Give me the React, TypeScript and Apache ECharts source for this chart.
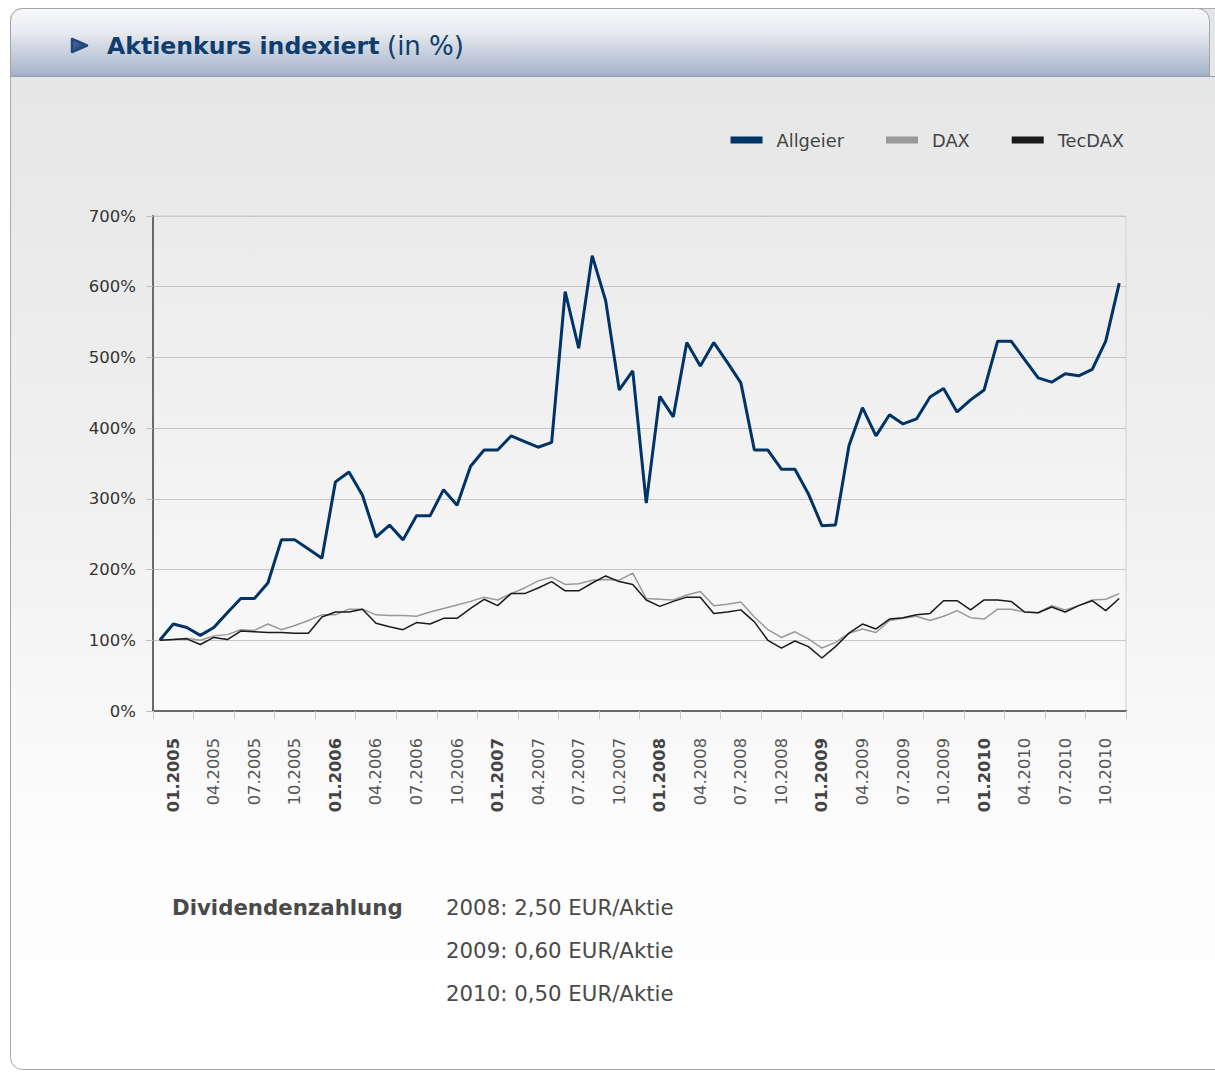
import React, { useEffect, useRef } from "react";
import * as echarts from "echarts";

const FONT = "'DejaVu Sans', Verdana, sans-serif";

const quarterLabels = [
  "01.2005", "04.2005", "07.2005", "10.2005",
  "01.2006", "04.2006", "07.2006", "10.2006",
  "01.2007", "04.2007", "07.2007", "10.2007",
  "01.2008", "04.2008", "07.2008", "10.2008",
  "01.2009", "04.2009", "07.2009", "10.2009",
  "01.2010", "04.2010", "07.2010", "10.2010",
];

const years = ["2005", "2006", "2007", "2008", "2009", "2010"];
const months = ["01", "02", "03", "04", "05", "06", "07", "08", "09", "10", "11", "12"];
const monthLabels = years.flatMap((y) => months.map((m) => `${m}.${y}`));

const allgeier = [
  100, 123, 118, 107, 118, 139, 159, 159, 181, 242, 242, 229,
  216, 324, 338, 305, 246, 263, 242, 276, 276, 313, 291, 346,
  369, 369, 389, 381, 373, 380, 593, 513, 644, 580, 454, 481,
  294, 445, 416, 521, 488, 521, 493, 464, 369, 369, 342, 342,
  307, 262, 263, 375, 429, 389, 419, 406, 413, 444, 456, 423,
  440, 454, 523, 523, 497, 471, 465, 477, 474, 483, 523, 605,
];

const dax = [
  100, 101, 103, 100, 106, 108, 115, 114, 123, 115, 121, 128,
  136, 136, 144, 144, 136, 135, 135, 134, 140, 145, 150, 155,
  161, 157, 166, 174, 184, 189, 179, 180, 185, 186, 185, 195,
  159, 158, 157, 164, 169, 149, 151, 154, 133, 115, 104, 112,
  102, 89, 97, 110, 116, 111, 128, 131, 134, 128, 134, 142,
  132, 130, 144, 144, 140, 139, 149, 143, 149, 157, 158, 166,
];

const tecdax = [
  100, 101, 102, 94, 104, 101, 113, 112, 111, 111, 110, 110,
  133, 140, 140, 144, 124, 119, 115, 125, 123, 131, 131, 145,
  158, 149, 166, 166, 174, 183, 170, 170, 181, 191, 183, 179,
  157, 148, 155, 161, 161, 138, 140, 143, 126, 100, 89, 99,
  91, 75, 91, 110, 123, 116, 130, 132, 136, 138, 156, 156,
  143, 157, 157, 155, 140, 139, 147, 140, 149, 156, 142, 159,
];

const titleBold = "Aktienkurs indexiert";
const titleNormal = "(in %)";
const dividendLabel = "Dividendenzahlung";
const dividends = ["2008: 2,50 EUR/Aktie", "2009: 0,60 EUR/Aktie", "2010: 0,50 EUR/Aktie"];

export default function App() {
  const ref = useRef<HTMLDivElement>(null);

  useEffect(() => {
    if (!ref.current) return;
    const chart = echarts.init(ref.current, undefined, { renderer: "svg" });

    const option: any = {
      animation: false,
      backgroundColor: "#ffffff",
      textStyle: { fontFamily: FONT },
      legend: {
        data: ["Allgeier", "DAX", "TecDAX"],
        right: 91,
        top: 131,
        padding: 0,
        icon: "rect",
        itemWidth: 32,
        itemHeight: 7,
        itemGap: 42,
        selectedMode: false,
        textStyle: { fontSize: 17.8, color: "#444444", fontFamily: FONT, padding: [0, 0, 0, 9] },
      },
      grid: {
        left: 153,
        right: 89,
        top: 216,
        bottom: 362,
        show: true,
        borderColor: "#cfcfcf",
        borderWidth: 1,
        backgroundColor: {
          type: "linear", x: 0, y: 0, x2: 0, y2: 1,
          colorStops: [
            { offset: 0, color: "#ebebeb" },
            { offset: 1, color: "#fafafa" },
          ],
        },
      },
      xAxis: [
        {
          type: "category",
          data: quarterLabels,
          boundaryGap: true,
          position: "bottom",
          axisLine: { show: true, lineStyle: { color: "#6a6a6a", width: 2 } },
          axisTick: { show: true, length: 8, lineStyle: { color: "#c8c8c8", width: 1 } },
          splitLine: { show: false },
          axisLabel: {
            interval: 0,
            rotate: 90,
            margin: 27,
            fontSize: 16.3,
            color: "#555555",
            fontFamily: FONT,
            formatter: (v: string) => (v.startsWith("01.") ? `{b|${v}}` : v),
            rich: {
              b: { fontWeight: "bold", fontSize: 16.3, color: "#444444", fontFamily: FONT },
            },
          },
        },
        {
          type: "category",
          data: monthLabels,
          boundaryGap: true,
          show: false,
        },
      ],
      yAxis: {
        type: "value",
        min: 0,
        max: 700,
        interval: 100,
        axisLine: { show: true, lineStyle: { color: "#6a6a6a", width: 2 } },
        axisTick: { show: true, length: 7, lineStyle: { color: "#c0c0c0", width: 1 } },
        axisLabel: { formatter: "{value}%", fontSize: 16.5, color: "#333333", margin: 17, fontFamily: FONT },
        splitLine: { show: true, lineStyle: { color: "#c6c6c6", width: 1 } },
      },
      series: [
        {
          name: "DAX", type: "line", xAxisIndex: 1, data: dax, symbol: "none",
          lineStyle: { color: "#999999", width: 1.5 }, itemStyle: { color: "#999999" }, z: 2, silent: true,
        },
        {
          name: "TecDAX", type: "line", xAxisIndex: 1, data: tecdax, symbol: "none",
          lineStyle: { color: "#1a1a1a", width: 1.5 }, itemStyle: { color: "#1a1a1a" }, z: 3, silent: true,
        },
        {
          name: "Allgeier", type: "line", xAxisIndex: 1, data: allgeier, symbol: "none",
          lineStyle: { color: "#003366", width: 3 }, itemStyle: { color: "#003366" }, z: 4, silent: true,
        },
      ],
      graphic: [
        {
          type: "rect", z: -20, silent: true,
          shape: { x: 10.5, y: 8.5, width: 1230, height: 1061, r: 12 },
          style: {
            fill: {
              type: "linear", x: 0, y: 0, x2: 0, y2: 1,
              colorStops: [
                { offset: 0, color: "#e4e5e6" },
                { offset: 0.45, color: "#f0f0f0" },
                { offset: 0.8, color: "#fdfdfd" },
                { offset: 1, color: "#ffffff" },
              ],
            },
            stroke: "#a9a9a9",
            lineWidth: 1,
          },
        },
        {
          type: "rect", z: -19, silent: true,
          shape: { x: 10.5, y: 8.5, width: 1199, height: 67.5, r: [12, 12, 0, 0] },
          style: {
            fill: {
              type: "linear", x: 0, y: 0, x2: 0, y2: 1,
              colorStops: [
                { offset: 0, color: "#f8f9fb" },
                { offset: 0.35, color: "#e8ebf0" },
                { offset: 1, color: "#a3b1c8" },
              ],
            },
            stroke: "#a3a3a3",
            lineWidth: 1,
          },
        },
        {
          type: "line", z: -18, silent: true,
          shape: { x1: 10.5, y1: 76.5, x2: 1215, y2: 76.5 },
          style: { stroke: "#8e9eb8", lineWidth: 1 },
        },
        {
          type: "polygon", z: -17, silent: true,
          shape: { points: [[72, 39], [87, 45.5], [72, 52]] },
          style: {
            fill: {
              type: "linear", x: 0, y: 0, x2: 1, y2: 1,
              colorStops: [
                { offset: 0, color: "#4f74a8" },
                { offset: 1, color: "#12386b" },
              ],
            },
            stroke: "#23487e",
            lineWidth: 2.5,
            lineJoin: "round",
          },
        },
        {
          type: "text", z: -16, silent: true,
          x: 107, y: 46,
          style: {
            text: titleBold,
            font: `bold 23.6px ${FONT}`,
            fill: "#0f3d6e",
            verticalAlign: "middle",
          },
        },
        {
          type: "text", z: -16, silent: true,
          x: 387, y: 46,
          style: {
            text: titleNormal,
            font: `26px ${FONT}`,
            fill: "#0f3d6e",
            verticalAlign: "middle",
          },
        },
        {
          type: "text", silent: true,
          x: 172, y: 907,
          style: {
            text: dividendLabel,
            font: `bold 21.3px ${FONT}`,
            fill: "#4a4a4a",
            verticalAlign: "middle",
          },
        },
        ...dividends.map((t, i) => ({
          type: "text", silent: true,
          x: 446, y: 907 + i * 43,
          style: {
            text: t,
            font: `21.3px ${FONT}`,
            fill: "#4a4a4a",
            verticalAlign: "middle",
          },
        })),
      ],
    };

    chart.setOption(option);
    return () => chart.dispose();
  }, []);

  return (
    <div
      ref={ref}
      style={{ position: "absolute", left: 0, top: 0, width: 1215, height: 1073 }}
    />
  );
}
